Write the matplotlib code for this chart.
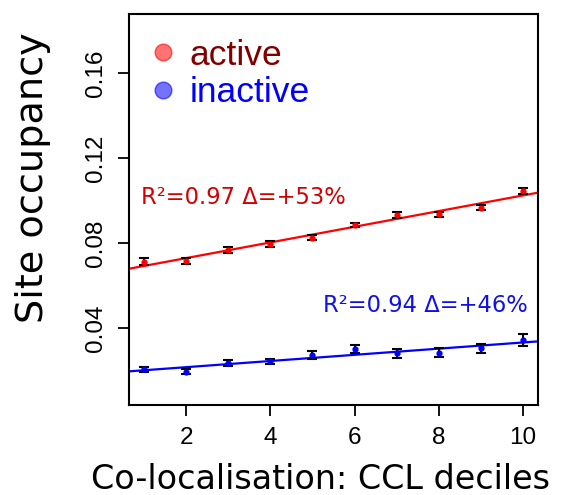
import numpy as np
import matplotlib
matplotlib.use("Agg")
import matplotlib.pyplot as plt
from matplotlib.lines import Line2D

deciles = np.arange(1, 11)
active = [0.0712, 0.0715, 0.0767, 0.0795, 0.0825, 0.0884, 0.0932, 0.0936, 0.0966, 0.1046]
active_err = [0.0017, 0.0012, 0.0012, 0.0012, 0.0012, 0.0010, 0.0014, 0.0012, 0.0012, 0.0014]
inactive = [0.0206, 0.0195, 0.0234, 0.0243, 0.0273, 0.0300, 0.0281, 0.0284, 0.0304, 0.0344]
inactive_err = [0.0012, 0.0013, 0.0015, 0.0013, 0.0019, 0.0020, 0.0020, 0.0022, 0.0022, 0.0030]

fig = plt.figure(figsize=(5.61, 4.95), dpi=100)
ax = fig.add_axes([0.23, 0.182, 0.729, 0.79])

xlim = (0.64, 10.36)
xs = np.array(xlim)
for y, err, col in [(active, active_err, "red"), (inactive, inactive_err, "blue")]:
    slope, icpt = np.polyfit(deciles, y, 1)
    ax.plot(xs, icpt + slope * xs, color=col, lw=1.6, zorder=2)
    ax.errorbar(deciles, y, yerr=err, fmt="o", ms=3.5, mfc=col, mec=col, alpha=1,
                ecolor="black", elinewidth=1.5, capsize=3.5, capthick=1.5, zorder=3)

ax.text(0.93, 0.1015, "R²=0.97 Δ=+53%", color="#d40000", fontsize=16.3,
        ha="left", va="center", family="DejaVu Sans")
ax.text(10.12, 0.0505, "R²=0.94 Δ=+46%", color="#1010e8", fontsize=16.3,
        ha="right", va="center", family="DejaVu Sans")

ax.set_xlim(*xlim)
ax.set_ylim(0.0038, 0.1878)
ax.set_xticks([2, 4, 6, 8, 10])
ax.set_yticks([0.04, 0.08, 0.12, 0.16])
ax.set_yticklabels(["0.04", "0.08", "0.12", "0.16"], rotation=90, va="center")
ax.tick_params(direction="out", length=8, width=1.3, labelsize=17.5, pad=8)
for lab in ax.get_xticklabels() + ax.get_yticklabels():
    lab.set_family("Liberation Sans")
    lab.set_fontsize(17.5)
for s in ax.spines.values():
    s.set_linewidth(1.5)

ax.set_xlabel("Co-localisation: CCL deciles", fontsize=24)
ax.xaxis.set_label_coords(0.467, -0.148)
ax.set_ylabel("Site occupancy", fontsize=27.5)
ax.yaxis.set_label_coords(-0.19, 0.58)

handles = [
    Line2D([], [], ls="", marker="o", ms=12, mfc=(1, 0, 0, 0.55), mec=(1, 0, 0, 0.6)),
    Line2D([], [], ls="", marker="o", ms=12, mfc=(0, 0, 1, 0.55), mec=(0, 0, 1, 0.6)),
]
leg = ax.legend(handles, ["active", "inactive"], loc="upper left", frameon=False,
                prop={"family": "Liberation Sans", "size": 25.5}, handletextpad=0.3,
                borderaxespad=0.3, labelspacing=0.12, handlelength=0.9,
                bbox_to_anchor=(-0.017, 1.0))
leg.get_texts()[0].set_color("#800000")
leg.get_texts()[1].set_color("blue")

fig.savefig("out.png", dpi=100)
